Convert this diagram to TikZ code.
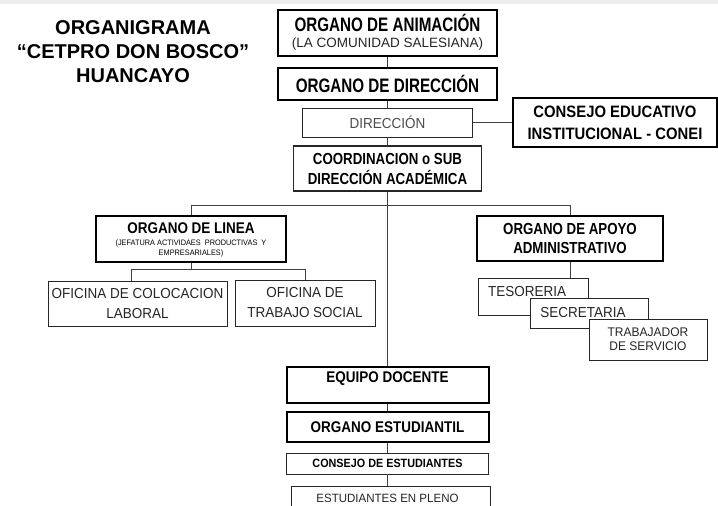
\documentclass[tikz,border=0pt]{standalone}
\usepackage{fontspec}
\setmainfont{Liberation Sans}
\newfontfamily\bnA{Liberation Sans}[FakeStretch=0.78]
\newfontfamily\bnB{Liberation Sans}[FakeStretch=0.83]
\newfontfamily\bnC{Liberation Sans}[FakeStretch=0.87]
\newfontfamily\bnD{Liberation Sans}[FakeStretch=0.9]
\newfontfamily\rnA{Liberation Sans}[FakeStretch=0.93]
\newfontfamily\rnB{Liberation Sans}[FakeStretch=0.96]
\begin{document}
\begin{tikzpicture}[x=1pt,y=-1pt,
  thickbox/.style={draw=black, line width=2pt, fill=white, inner sep=0pt, align=center},
  thinbox/.style={draw=black!85, line width=0.9pt, fill=white, inner sep=0pt, align=center},
  conn/.style={draw=black!75, line width=0.9pt},
  ttl/.style={font=\bfseries\fontsize{20}{24}\selectfont, align=center},
  bigb/.style={font=\bnA\bfseries\fontsize{19.5}{22}\selectfont},
  midb/.style={font=\bnC\bfseries\fontsize{15.5}{19}\selectfont},
  reg/.style={font=\rnA\fontsize{14.5}{20}\selectfont, text=black!85},
]
\useasboundingbox (0,0) rectangle (718,506);
\clip (0,0) rectangle (718,506);
\fill[black!7] (0,0) rectangle (718,4);

% title
\node[ttl] (title) at (133,52) {ORGANIGRAMA\\``CETPRO DON BOSCO''\\HUANCAYO};

% trunk boxes
\node[thickbox, minimum width=219pt, minimum height=46pt] (anim) at (387.5,33) {};
\node[bigb] (animt) at (387.5,23) {ORGANO DE ANIMACIÓN};
\node[font=\fontsize{13.5}{16}\selectfont, text=black!85] (anims) at (387.5,44) {(LA COMUNIDAD SALESIANA)};

\node[thickbox, minimum width=219pt, minimum height=32pt, font=\bnA\bfseries\fontsize{19.5}{22}\selectfont] (dirb) at (387.5,84) {ORGANO DE DIRECCIÓN};

\node[thinbox, minimum width=170pt, minimum height=29pt, font=\rnA\fontsize{14.5}{17}\selectfont, text=black!70] (direccion) at (387.5,122.5) {DIRECCIÓN};

\node[thickbox, line width=1.6pt, minimum width=204pt, minimum height=49pt, font=\bnD\bfseries\fontsize{16.5}{22}\selectfont] (conei) at (615,122.5) {CONSEJO EDUCATIVO\\INSTITUCIONAL - CONEI};

\node[thinbox, line width=1.1pt, minimum width=188pt, minimum height=45pt, font=\bnB\bfseries\fontsize{16}{20}\selectfont] (coord) at (387.5,168.5) {COORDINACION o SUB\\DIRECCIÓN ACADÉMICA};

% organo de linea
\node[thickbox, minimum width=190pt, minimum height=46pt] (linea) at (191,239) {};
\node[midb] (lineat) at (191,228) {ORGANO DE LINEA};
\node[font=\rnA\fontsize{7.9}{10}\selectfont, align=center] (lineas) at (191,248) {(JEFATURA ACTIVIDAES\ \ PRODUCTIVAS\ \ Y\\EMPRESARIALES)};

\node[thinbox, minimum width=179pt, minimum height=45pt, reg] (ofi1) at (137.5,303.5) {OFICINA DE COLOCACION\\LABORAL};
\node[thinbox, minimum width=140pt, minimum height=46pt, reg] (ofi2) at (305,303) {OFICINA DE\\TRABAJO SOCIAL};

% organo de apoyo
\node[thickbox, minimum width=186pt, minimum height=45pt, font=\bnB\bfseries\fontsize{16}{19}\selectfont] (apoyo) at (570,238.5) {ORGANO DE APOYO\\ADMINISTRATIVO};

\node[thinbox, minimum width=110pt, minimum height=37pt] (teso) at (533,296.5) {};
\node[reg, anchor=west, inner sep=0pt] (tesot) at (488,292) {TESORERIA};
\node[thinbox, minimum width=118pt, minimum height=30pt] (secre) at (589,313) {};
\node[reg, inner sep=0pt] (secret) at (583,313) {SECRETARIA};
\node[thinbox, minimum width=118pt, minimum height=41pt, font=\rnB\fontsize{12.5}{14}\selectfont, text=black!85] (trab) at (648,339.5) {TRABAJADOR\\DE SERVICIO};

% bottom trunk
\node[thickbox, minimum width=202pt, minimum height=36pt] (equipo) at (387.5,385) {};
\node[midb] (equipot) at (387.5,379) {EQUIPO DOCENTE};
\node[thickbox, minimum width=202pt, minimum height=30pt, midb] (estud) at (387.5,427) {ORGANO ESTUDIANTIL};
\node[thinbox, minimum width=202pt, minimum height=21pt, font=\bnD\bfseries\fontsize{12}{14}\selectfont] (consejo) at (387.5,463.5) {CONSEJO DE ESTUDIANTES};
\node[thinbox, minimum width=199pt, minimum height=34pt] (pleno) at (390.5,503) {};
\node[font=\rnB\fontsize{12}{14}\selectfont, text=black!85] (plenot) at (387.5,498) {ESTUDIANTES EN PLENO};

% connectors
\coordinate (bus) at (0,205);
\coordinate (bus2) at (0,269);
\draw[conn] (anim.south) -- (dirb.north);
\draw[conn] (dirb.south) -- (direccion.north);
\draw[conn] (direccion.south) -- (coord.north);
\draw[conn] (direccion.east) -- (direccion.east -| conei.west);
\draw[conn] (coord.south) -- (equipo.north);
\draw[conn] (linea.north) -- (linea.north |- bus) -- (apoyo.north |- bus) -- (apoyo.north);
\draw[conn] (linea.south) -- (linea.south |- bus2);
\draw[conn] ([xshift=-6.5pt]ofi1.north) |- (ofi2.north |- bus2) -- (ofi2.north);
\draw[conn] (apoyo.south) -- (apoyo.south |- teso.north);
\draw[conn] (equipo.south) -- (estud.north);
\draw[conn] (estud.south) -- (consejo.north);
\draw[conn] (consejo.south) -- (consejo.south |- pleno.north);
\end{tikzpicture}
\end{document}
